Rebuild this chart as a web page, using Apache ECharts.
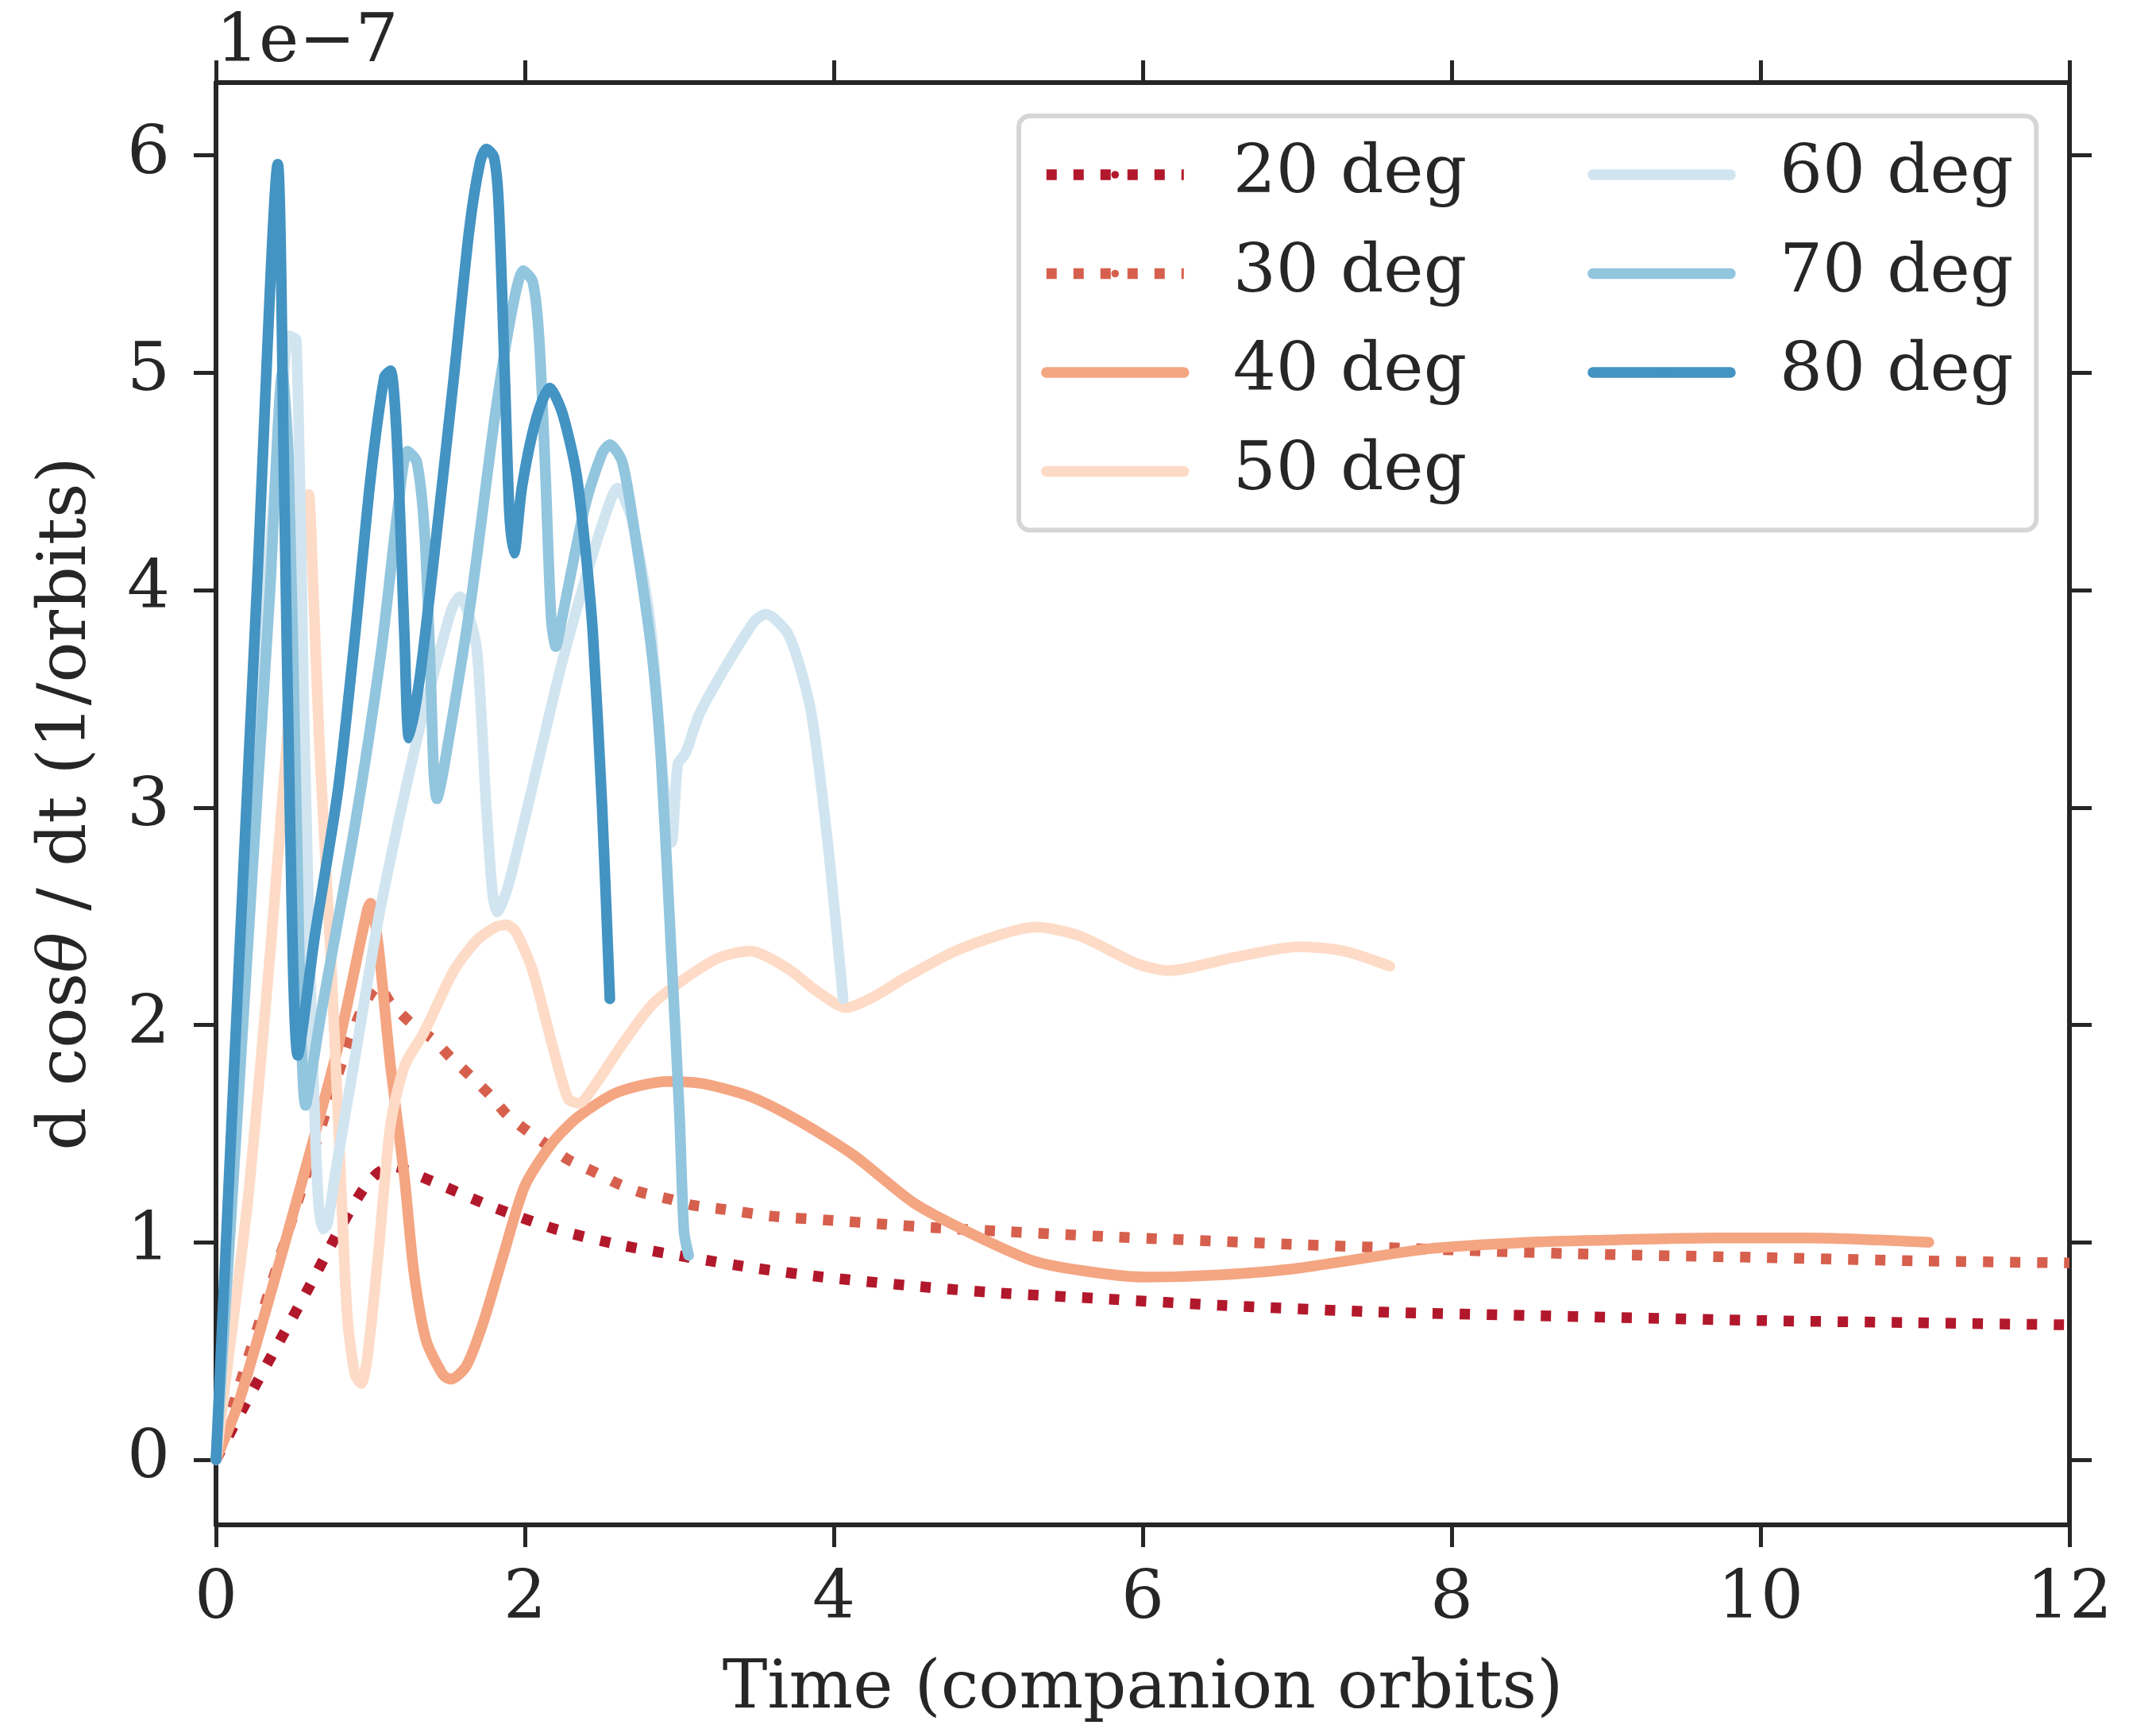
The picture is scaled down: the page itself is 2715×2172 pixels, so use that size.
<!DOCTYPE html>
<html><head><meta charset="utf-8">
<script src="https://cdn.jsdelivr.net/npm/echarts@6/dist/echarts.min.js"></script>
<style>html,body{margin:0;padding:0;background:#fff;}#c{width:2715px;height:2172px;}</style>
</head><body><div id="c"></div>
<script>
// ---- data (values in units of 1e-7) ----
const xTicks = [0, 2, 4, 6, 8, 10, 12];
const yTicks = [0, 1, 2, 3, 4, 5, 6];
const seriesNames = ['20 deg', '30 deg', '40 deg', '50 deg', '60 deg', '70 deg', '80 deg'];
const seriesColors = ['#b2182b', '#d6604d', '#f4a582', '#fddbc7', '#d1e5f0', '#92c5de', '#4393c3'];

const t20 = [0, 0.2, 0.4, 0.6, 0.8, 0.95, 1.05, 1.15, 1.3, 1.5, 1.8, 2.2, 2.6, 3.07, 3.5, 3.93, 4.5, 5.0, 5.8, 6.5, 7.5, 8.87, 10, 11, 12];
const v20 = [0, 0.27, 0.53, 0.79, 1.06, 1.24, 1.32, 1.35, 1.31, 1.25, 1.16, 1.06, 0.99, 0.93, 0.88, 0.84, 0.80, 0.77, 0.738, 0.71, 0.68, 0.657, 0.64, 0.63, 0.62];

const t30 = [0, 0.2, 0.4, 0.57, 0.72, 0.85, 0.95, 1.05, 1.13, 1.26, 1.41, 1.52, 1.64, 1.77, 1.88, 2.0, 2.16, 2.28, 2.46, 2.6, 2.75, 2.93, 3.09, 3.3, 3.6, 4.0, 4.29, 4.7, 5.1, 5.8, 6.14, 7, 8, 8.87, 10, 11, 12];
const v30 = [0, 0.45, 0.9, 1.28, 1.62, 1.9, 2.08, 2.18, 2.1, 2.01, 1.93, 1.85, 1.77, 1.68, 1.59, 1.52, 1.44, 1.38, 1.32, 1.27, 1.23, 1.2, 1.17, 1.15, 1.12, 1.1, 1.085, 1.065, 1.05, 1.025, 1.015, 0.99, 0.965, 0.946, 0.93, 0.915, 0.905];

const t40 = [0, 0.15, 0.36, 0.58, 0.79, 0.98, 1.0, 1.05, 1.13, 1.22, 1.28, 1.36, 1.47, 1.52, 1.62, 1.73, 1.86, 2.0, 2.18, 2.35, 2.6, 2.92, 3.15, 3.46, 3.77, 4.13, 4.52, 4.92, 5.31, 5.7, 6.02, 6.5, 7.0, 7.85, 8.5, 9.0, 9.7, 10.3, 11.09];
const v40 = [0, 0.27, 0.78, 1.34, 1.9, 2.53, 2.56, 2.37, 1.81, 1.30, 0.87, 0.55, 0.39, 0.37, 0.43, 0.63, 0.94, 1.26, 1.46, 1.58, 1.69, 1.74, 1.73, 1.67, 1.56, 1.40, 1.18, 1.03, 0.91, 0.86, 0.84, 0.85, 0.88, 0.97, 1.0, 1.01, 1.02, 1.02, 1.0];

const t50 = [0, 0.06, 0.21, 0.36, 0.47, 0.58, 0.6, 0.63, 0.67, 0.75, 0.80, 0.85, 0.9, 0.94, 0.98, 1.05, 1.13, 1.22, 1.35, 1.54, 1.69, 1.81, 1.88, 1.94, 2.05, 2.18, 2.28, 2.35, 2.46, 2.63, 2.82, 3.03, 3.26, 3.46, 3.7, 3.9, 4.08, 4.26, 4.47, 4.82, 5.31, 5.59, 5.97, 6.17, 6.59, 7.01, 7.3, 7.6];
const v50 = [0, 0.35, 1.22, 2.41, 3.40, 4.39, 4.44, 4.0, 3.28, 2.22, 1.42, 0.66, 0.39, 0.35, 0.47, 0.94, 1.54, 1.81, 1.97, 2.25, 2.39, 2.45, 2.46, 2.43, 2.25, 1.9, 1.66, 1.64, 1.73, 1.91, 2.09, 2.21, 2.31, 2.34, 2.26, 2.15, 2.08, 2.13, 2.22, 2.35, 2.45, 2.41, 2.28, 2.25, 2.31, 2.36, 2.34, 2.27];

const t60 = [0, 0.22, 0.34, 0.44, 0.47, 0.52, 0.57, 0.62, 0.66, 0.69, 0.72, 0.78, 0.9, 1.06, 1.3, 1.45, 1.53, 1.58, 1.63, 1.69, 1.75, 1.79, 1.82, 1.9, 2.22, 2.37, 2.5, 2.6, 2.69, 2.81, 2.9, 2.95, 2.99, 3.04, 3.13, 3.31, 3.49, 3.56, 3.71, 3.85, 3.96, 4.06];
const v60 = [0, 2.52, 4.08, 5.0, 5.17, 5.15, 3.4, 2.01, 1.22, 1.06, 1.08, 1.35, 1.85, 2.52, 3.31, 3.72, 3.92, 3.97, 3.9, 3.72, 3.0, 2.61, 2.52, 2.66, 3.61, 4.0, 4.3, 4.47, 4.33, 3.86, 3.1, 2.84, 3.2, 3.25, 3.43, 3.66, 3.86, 3.89, 3.79, 3.45, 2.84, 2.12];

const t70 = [0, 0.2, 0.35, 0.43, 0.47, 0.52, 0.58, 0.68, 0.90, 1.07, 1.18, 1.24, 1.30, 1.35, 1.39, 1.41, 1.43, 1.47, 1.65, 1.81, 1.92, 1.99, 2.05, 2.09, 2.13, 2.17, 2.20, 2.24, 2.39, 2.50, 2.55, 2.63, 2.71, 2.82, 2.88, 2.95, 3.0, 3.03, 3.06];
const v70 = [0, 2.3, 4.0, 5.0, 4.6, 3.0, 1.63, 2.05, 2.92, 3.72, 4.39, 4.64, 4.59, 4.27, 3.6, 3.16, 3.04, 3.16, 3.95, 4.82, 5.30, 5.47, 5.42, 5.18, 4.59, 3.87, 3.74, 3.87, 4.39, 4.63, 4.67, 4.59, 4.27, 3.72, 3.24, 2.3, 1.6, 1.05, 0.94];

const t80 = [0, 0.15, 0.27, 0.40, 0.44, 0.48, 0.53, 0.64, 0.79, 0.90, 1.0, 1.09, 1.13, 1.17, 1.22, 1.25, 1.32, 1.43, 1.54, 1.64, 1.71, 1.75, 1.80, 1.83, 1.87, 1.90, 1.93, 1.98, 2.07, 2.16, 2.24, 2.33, 2.39, 2.44, 2.5, 2.55];
const v80 = [0, 2.3, 4.08, 5.96, 4.54, 2.91, 1.86, 2.41, 3.08, 3.79, 4.51, 4.98, 5.01, 4.71, 3.79, 3.32, 3.6, 4.27, 4.98, 5.66, 5.97, 6.03, 5.99, 5.78, 4.98, 4.35, 4.17, 4.47, 4.78, 4.93, 4.82, 4.55, 4.2, 3.8, 3.0, 2.12];

const times = [t20, t30, t40, t50, t60, t70, t80];
const values = [v20, v30, v40, v50, v60, v70, v80];
const dotted = [true, true, false, false, false, false, false];

// ---- chart ----
const FONT = 'DejaVu Serif';
const INK = '#262626';
const LW = 13.5;
const chart = echarts.init(document.getElementById('c'), null, {renderer: 'canvas', width: 2715, height: 2172});

const series = seriesNames.map((name, i) => ({
  name: name,
  type: 'line',
  xAxisIndex: 0, yAxisIndex: 0,
  symbol: 'none', showSymbol: false,
  smooth: 0.25,
  animation: false,
  lineStyle: {
    color: seriesColors[i], width: LW,
    type: dotted[i] ? [13, 21] : 'solid',
    cap: dotted[i] ? 'butt' : 'round', join: 'round'
  },
  itemStyle: {color: seriesColors[i]},
  emphasis: {disabled: true},
  data: times[i].map((t, k) => [t, values[i][k]])
}));

const axisLineStyle = {show: true, onZero: false, lineStyle: {color: INK, width: 6}};
const tickStyle = {show: true, inside: false, length: 28, lineStyle: {color: INK, width: 5}};

const option = {
  animation: false,
  backgroundColor: '#ffffff',
  grid: {left: 272, top: 104, width: 2334, height: 1816, containLabel: false, outerBoundsMode: 'none', show: false},
  xAxis: [{
    type: 'value', min: 0, max: 12, interval: 2, position: 'bottom',
    axisLine: axisLineStyle, axisTick: tickStyle, splitLine: {show: false},
    axisLabel: {show: true, margin: 52, fontFamily: FONT, fontSize: 85, color: INK,
      customValues: xTicks},
    name: 'Time (companion orbits)', nameLocation: 'middle', nameGap: 165,
    nameTextStyle: {fontFamily: FONT, fontSize: 85, color: INK}
  }, {
    type: 'value', min: 0, max: 12, interval: 2, position: 'top',
    axisLine: axisLineStyle, axisTick: tickStyle, splitLine: {show: false},
    axisLabel: {show: false}
  }],
  yAxis: [{
    type: 'value', min: -0.3, max: 6.335, position: 'left',
    axisLine: axisLineStyle, splitLine: {show: false},
    axisTick: Object.assign({}, tickStyle, {customValues: yTicks}),
    axisLabel: {show: true, margin: 58, fontFamily: FONT, fontSize: 85, color: INK,
      padding: [10, 0, 0, 0], customValues: yTicks},
    name: 'd cos{it|θ} / dt (1/orbits)', nameLocation: 'middle', nameGap: 145, nameRotate: 90,
    nameTextStyle: {fontFamily: FONT, fontSize: 85, color: INK,
      rich: {it: {fontFamily: FONT, fontSize: 85, color: INK, fontStyle: 'italic'}}}
  }, {
    type: 'value', min: -0.3, max: 6.335, position: 'right',
    axisLine: axisLineStyle, splitLine: {show: false},
    axisTick: Object.assign({}, tickStyle, {customValues: yTicks}),
    axisLabel: {show: false}
  }],
  legend: {
    show: true, orient: 'vertical', left: 1283, top: 146, height: 530,
    padding: [29, 29, 29, 28],
    itemWidth: 173, itemHeight: 12, itemGap: 34.5,
    selectedMode: false,
    backgroundColor: 'rgba(255,255,255,0.8)', borderColor: '#d6d6d6', borderWidth: 6, borderRadius: 14,
    textStyle: {fontFamily: FONT, fontSize: 85, color: INK, lineHeight: 90, padding: [0, 0, 0, 57], width: 412},
    lineStyle: {width: LW},
    data: seriesNames.map((n, i) => i < 4 ? {name: n} : {name: n, textStyle: {width: 277}})
  },
  graphic: [{
    type: 'text', left: 272, top: 12, z: 10,
    style: {text: '1e\u22127', font: '85px "DejaVu Serif"', fill: INK}
  }],
  series: series
};
chart.setOption(option);
</script>
</body></html>
